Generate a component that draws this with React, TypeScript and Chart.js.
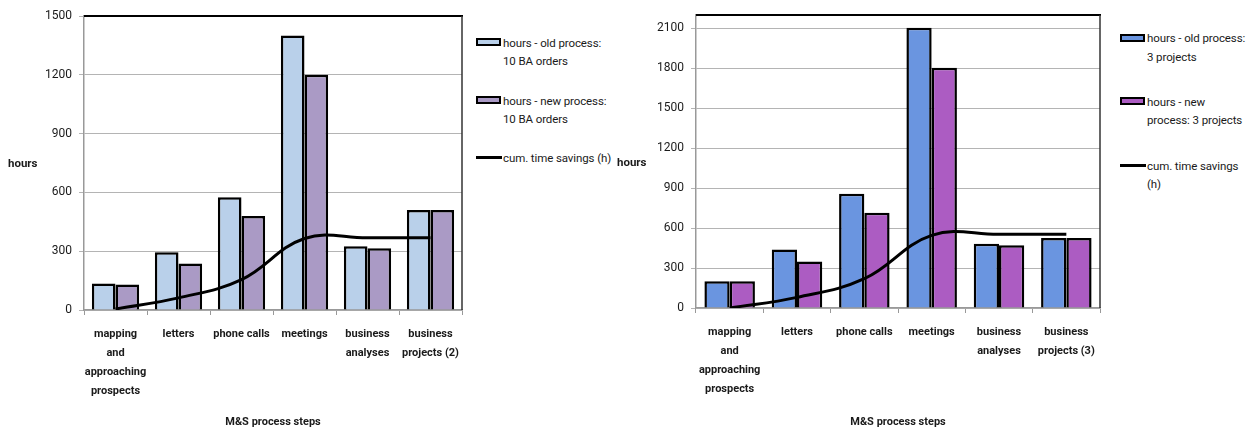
import React, { useEffect, useRef } from "react";
import { Chart, registerables } from "chart.js";

Chart.register(...registerables);

// ---------- data ----------
const leftCategories = [
  ["mapping", "and", "approaching", "prospects"],
  "letters",
  "phone calls",
  "meetings",
  ["business", "analyses"],
  ["business", "projects (2)"],
];
const rightCategories = [
  ["mapping", "and", "approaching", "prospects"],
  "letters",
  "phone calls",
  "meetings",
  ["business", "analyses"],
  ["business", "projects (3)"],
];

const leftOld = [135, 295, 575, 1400, 325, 510];
const leftNew = [130, 237, 480, 1200, 315, 510];
const leftCum = [5, 62, 155, 365, 368, 368];

const rightOld = [200, 440, 858, 2105, 483, 525];
const rightNew = [200, 350, 715, 1803, 472, 525];
const rightCum = [0, 80, 220, 545, 553, 553];

const leftYMax = 1500;
const rightYMax = 2200;
const yStep = 300;

const leftLegendOld = ["hours - old process:", "10 BA orders"];
const leftLegendNew = ["hours - new process:", "10 BA orders"];
const leftLegendCum = ["cum. time savings (h)"];
const rightLegendOld = ["hours - old process:", "3 projects"];
const rightLegendNew = ["hours - new", "process: 3 projects"];
const rightLegendCum = ["cum. time savings", "(h)"];

const xTitle = "M&S process steps";
const yTitle = "hours";

const FONT = "Roboto, 'Liberation Sans', sans-serif";

// ---------- panel ----------
type PanelProps = {
  canvasLeft: number;
  canvasWidth: number;
  plotLeft: number;
  plotRight: number;
  plotTop: number;
  plotBottom: number;
  labels: any[];
  oldData: number[];
  newData: number[];
  cumData: number[];
  yMax: number;
  oldColor: string;
  newColor: string;
  oldLabel: string[];
  newLabel: string[];
  cumLabel: string[];
};

const H = 430;

function ChartPanel(p: PanelProps) {
  const ref = useRef<HTMLCanvasElement | null>(null);
  useEffect(() => {
    if (!ref.current) return;
    const framePlugin = {
      id: "frame",
      afterDraw(chart: any) {
        const { ctx, chartArea } = chart;
        const { left, right, top, bottom } = chartArea;
        ctx.save();
        ctx.strokeStyle = "#000";
        ctx.lineWidth = 2;
        ctx.beginPath();
        ctx.moveTo(left, top);
        ctx.lineTo(right + 1, top);
        ctx.stroke();
        ctx.strokeStyle = "#333";
        ctx.lineWidth = 1.5;
        ctx.beginPath();
        ctx.moveTo(right, top);
        ctx.lineTo(right, bottom);
        ctx.stroke();
        ctx.restore();
      },
    };
    const chart = new Chart(ref.current, {
      type: "bar",
      data: {
        labels: p.labels,
        datasets: [
          {
            label: p.oldLabel.join(" "),
            data: p.oldData,
            backgroundColor: p.oldColor,
            borderColor: "#000",
            borderWidth: 2.5,
            order: 1,
          },
          {
            label: p.newLabel.join(" "),
            data: p.newData,
            backgroundColor: p.newColor,
            borderColor: "#000",
            borderWidth: 2.5,
            order: 1,
          },
          {
            type: "line",
            label: p.cumLabel.join(" "),
            data: p.cumData,
            borderColor: "#000",
            borderWidth: 3,
            pointRadius: 0,
            tension: 0.4,
            fill: false,
            order: 0,
          } as any,
        ],
      },
      options: {
        animation: false,
        responsive: false,
        maintainAspectRatio: false,
        layout: {
          padding: {
            left: 0,
            right: p.canvasWidth - (p.plotRight - p.canvasLeft),
            top: p.plotTop,
            bottom: 0,
          },
        },
        datasets: {
          bar: { categoryPercentage: 0.75, barPercentage: 1 },
        } as any,
        plugins: {
          legend: { display: false },
          tooltip: { enabled: false },
        },
        scales: {
          x: {
            grid: {
              display: true,
              drawOnChartArea: false,
              offset: true,
              tickLength: 5,
              color: "#999",
              lineWidth: 1,
            },
            border: { color: "#999", width: 1.5 },
            ticks: {
              font: { family: FONT, size: 11, weight: "bold", lineHeight: "19px" },
              color: "#1a1a1a",
              padding: 10,
              maxRotation: 0,
              minRotation: 0,
              autoSkip: false,
            },
            title: {
              display: true,
              text: xTitle,
              font: { family: FONT, size: 11, weight: "bold" },
              color: "#1a1a1a",
              padding: { top: 0, bottom: 1 },
            },
            afterFit: (s: any) => {
              s.height = H - p.plotBottom;
            },
          },
          y: {
            min: 0,
            max: p.yMax,
            ticks: {
              stepSize: yStep,
              includeBounds: false,
              font: { family: FONT, size: 12 },
              color: "#1a1a1a",
              padding: 7,
              callback: (v: any) => String(v),
            },
            grid: { color: "#b4b4b4", tickLength: 5, lineWidth: 1 },
            border: { color: "#999", width: 1.5 },
            afterFit: (s: any) => {
              s.width = p.plotLeft - p.canvasLeft;
            },
          },
        },
      },
      plugins: [framePlugin],
    } as any);
    return () => chart.destroy();
  }, []);
  return (
    <canvas
      ref={ref}
      width={p.canvasWidth}
      height={H}
      style={{ position: "absolute", left: p.canvasLeft, top: 0, width: p.canvasWidth, height: H }}
    />
  );
}

type LegendEntry = { kind: "box" | "line"; color?: string; lines: string[]; y: number };

function Legend({ x, entries }: { x: number; entries: LegendEntry[] }) {
  const lh = 18.5;
  return (
    <>
      {entries.map((e, i) => (
        <React.Fragment key={i}>
          {e.kind === "box" ? (
            <div
              style={{
                position: "absolute",
                left: x,
                top: e.y - 4,
                width: 25,
                height: 8,
                boxSizing: "border-box",
                border: "2px solid #000",
                background: e.color,
              }}
            />
          ) : (
            <div
              style={{
                position: "absolute",
                left: x,
                top: e.y - 1.5,
                width: 26,
                height: 3,
                background: "#000",
              }}
            />
          )}
          {e.lines.map((t, j) => (
            <div
              key={j}
              style={{
                position: "absolute",
                left: x + 27,
                top: e.y + j * lh - lh / 2 + 1,
                height: lh,
                lineHeight: lh + "px",
                fontFamily: FONT,
                fontSize: 11.5,
                letterSpacing: "-0.1px",
                color: "#1a1a1a",
                whiteSpace: "nowrap",
              }}
            >
              {t}
            </div>
          ))}
        </React.Fragment>
      ))}
    </>
  );
}

function YTitle({ x, y }: { x: number; y: number }) {
  return (
    <div
      style={{
        position: "absolute",
        left: x,
        top: y - 8,
        lineHeight: "16px",
        fontFamily: FONT,
        fontSize: 11.5,
        fontWeight: "bold",
        color: "#1a1a1a",
      }}
    >
      {yTitle}
    </div>
  );
}

export default function App() {
  return (
    <div style={{ position: "absolute", left: 0, top: 0, width: 1257, height: H, background: "#fff", overflow: "hidden" }}>
      <ChartPanel
        canvasLeft={0}
        canvasWidth={475}
        plotLeft={84}
        plotRight={462}
        plotTop={16}
        plotBottom={310}
        labels={leftCategories}
        oldData={leftOld}
        newData={leftNew}
        cumData={leftCum}
        yMax={leftYMax}
        oldColor="#B9D0EA"
        newColor="#AA9AC5"
        oldLabel={leftLegendOld}
        newLabel={leftLegendNew}
        cumLabel={leftLegendCum}
      />
      <YTitle x={8} y={163} />
      <Legend
        x={476}
        entries={[
          { kind: "box", color: "#B9D0EA", lines: leftLegendOld, y: 42 },
          { kind: "box", color: "#AA9AC5", lines: leftLegendNew, y: 100 },
          { kind: "line", lines: leftLegendCum, y: 157 },
        ]}
      />
      <ChartPanel
        canvasLeft={610}
        canvasWidth={502}
        plotLeft={696}
        plotRight={1100}
        plotTop={15}
        plotBottom={308}
        labels={rightCategories}
        oldData={rightOld}
        newData={rightNew}
        cumData={rightCum}
        yMax={rightYMax}
        oldColor="#6A95E0"
        newColor="#AC5CC2"
        oldLabel={rightLegendOld}
        newLabel={rightLegendNew}
        cumLabel={rightLegendCum}
      />
      <YTitle x={617} y={162} />
      <Legend
        x={1120}
        entries={[
          { kind: "box", color: "#6A95E0", lines: rightLegendOld, y: 37.5 },
          { kind: "box", color: "#AC5CC2", lines: rightLegendNew, y: 101 },
          { kind: "line", lines: rightLegendCum, y: 165 },
        ]}
      />
    </div>
  );
}
